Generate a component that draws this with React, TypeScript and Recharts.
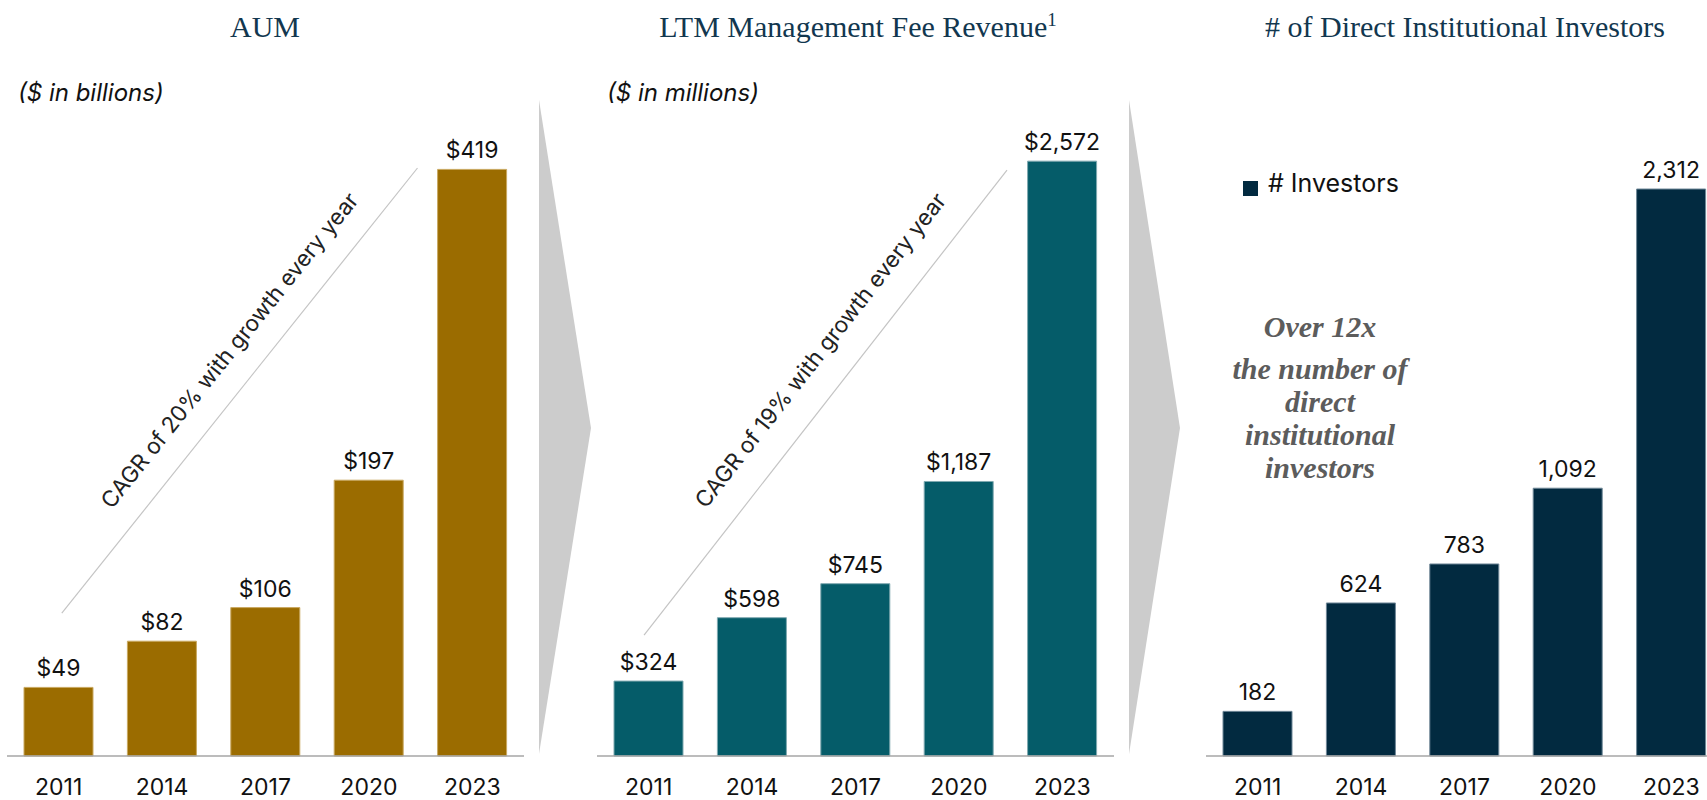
import React from "react";
import { BarChart, Bar, XAxis, YAxis, LabelList, ReferenceLine, Legend } from "recharts";

const years = ["2011", "2014", "2017", "2020", "2023"];
const aum = [49, 82, 106, 197, 419];
const fees = [324, 598, 745, 1187, 2572];
const investors = [182, 624, 783, 1092, 2312];

// diagonal CAGR guide lines, in data units (x on a 0..5 category scale)
const aumLine = [{ x: 0.53, y: 102 }, { x: 3.97, y: 420 }];
const feeLine = [{ x: 0.455, y: 523 }, { x: 3.965, y: 2533 }];

const note = ["Over 12x", "the number of", "direct", "institutional", "investors"];

const SANS = "Inter, 'Noto Sans', sans-serif";
const SERIF = "'Liberation Serif', 'DejaVu Serif', serif";
const TITLE = "#12374f";

type PanelProps = {
  left: number;
  values: number[];
  color: string;
  edge: string;
  max: number;
  prefix: string;
  segment?: { x: number; y: number }[];
  legend?: boolean;
};

function Panel({ left, values, color, edge, max, prefix, segment, legend }: PanelProps) {
  // pos = centre of each category on a 0..5 scale, used by the hidden guide axis
  const data = years.map((y, i) => ({ year: y, value: values[i], pos: i + 0.5 }));
  return (
    <div style={{ position: "absolute", left, top: 0 }}>
      <BarChart width={517} height={800} data={data} margin={{ top: 126, right: 0, bottom: 0, left: 0 }}>
        <XAxis
          dataKey="year"
          height={44}
          axisLine={{ stroke: "#a6a6a6", strokeWidth: 1.5 }}
          tickLine={false}
          tickMargin={17}
          tick={{ fontSize: 23, fill: "#111", fontFamily: SANS }}
          interval={0}
        />
        <XAxis xAxisId="n" dataKey="pos" type="number" domain={[0, 5]} allowDataOverflow hide />
        <YAxis hide domain={[0, max]} />
        {segment && (
          <ReferenceLine
            xAxisId="n"
            segment={segment}
            stroke="#c4c4c4"
            strokeWidth={1.2}
            ifOverflow="visible"
          />
        )}
        {legend && (
          <Legend
            layout="horizontal"
            verticalAlign="middle"
            align="center"
            iconType="square"
            iconSize={15}
            wrapperStyle={{ top: 168, left: 37, width: "auto", height: "auto" }}
            formatter={(v) => (
              <span style={{ color: "#111", fontSize: 25, fontFamily: SANS, marginLeft: 6 }}>{v}</span>
            )}
          />
        )}
        <Bar
          dataKey="value"
          name="# Investors"
          fill={color}
          stroke={edge}
          strokeWidth={1}
          barSize={69}
          isAnimationActive={false}
        >
          <LabelList
            dataKey="value"
            position="top"
            offset={11}
            formatter={(v: any) => prefix + Number(v).toLocaleString("en-US")}
            style={{ fontSize: 23, fill: "#111", fontFamily: SANS }}
          />
        </Bar>
      </BarChart>
    </div>
  );
}

const titleStyle: React.CSSProperties = {
  position: "absolute",
  top: 12,
  transform: "translateX(-50%)",
  whiteSpace: "nowrap",
  fontFamily: SERIF,
  fontSize: 30,
  lineHeight: "30px",
  color: TITLE,
};

const unitStyle: React.CSSProperties = {
  position: "absolute",
  top: 78,
  fontFamily: SANS,
  fontStyle: "italic",
  fontSize: 24,
  color: "#111",
};

const cagrStyle = (angle: number): React.CSSProperties => ({
  position: "absolute",
  transform: `translate(-50%, -50%) rotate(${angle}deg)`,
  whiteSpace: "nowrap",
  fontFamily: SANS,
  fontSize: 22.5,
  color: "#222",
});

export default function App() {
  return (
    <div
      style={{
        position: "fixed",
        left: 0,
        top: 0,
        width: 1707,
        height: 800,
        overflow: "hidden",
        background: "#fff",
      }}
    >
      <Panel left={7} values={aum} color="#9b6c00" edge="#c9a860" max={450} prefix="$" segment={aumLine} />
      <Panel left={597} values={fees} color="#055c69" edge="#7fa9b0" max={2724} prefix="$" segment={feeLine} />
      <Panel left={1206} values={investors} color="#022a40" edge="#6f8797" max={2569} prefix="" legend />

      <svg width={1707} height={800} style={{ position: "absolute", left: 0, top: 0, pointerEvents: "none" }}>
        <polygon points="539,100 591,428 539,754" fill="#cccccc" />
        <polygon points="1129,100 1180,428 1129,754" fill="#cccccc" />
      </svg>

      <div style={{ ...titleStyle, left: 265 }}>AUM</div>
      <div style={{ ...titleStyle, left: 858 }}>
        LTM Management Fee Revenue<sup style={{ fontSize: 19, lineHeight: 0 }}>1</sup>
      </div>
      <div style={{ ...titleStyle, left: 1465 }}># of Direct Institutional Investors</div>

      <div style={{ ...unitStyle, left: 18 }}>($ in billions)</div>
      <div style={{ ...unitStyle, left: 607 }}>($ in millions)</div>

      <div style={{ ...cagrStyle(-51.3), left: 229, top: 350 }}>CAGR of 20% with growth every year</div>
      <div style={{ ...cagrStyle(-52), left: 820, top: 350 }}>CAGR of 19% with growth every year</div>

      <div
        style={{
          position: "absolute",
          left: 1320,
          top: 310,
          transform: "translateX(-50%)",
          textAlign: "center",
          fontFamily: SERIF,
          fontWeight: "bold",
          fontStyle: "italic",
          fontSize: 30,
          lineHeight: "33px",
          color: "#5c5c5c",
          whiteSpace: "nowrap",
        }}
      >
        {note.map((l, i) => (
          <div key={l} style={{ marginBottom: i === 0 ? 9 : 0 }}>
            {l}
          </div>
        ))}
      </div>
    </div>
  );
}
